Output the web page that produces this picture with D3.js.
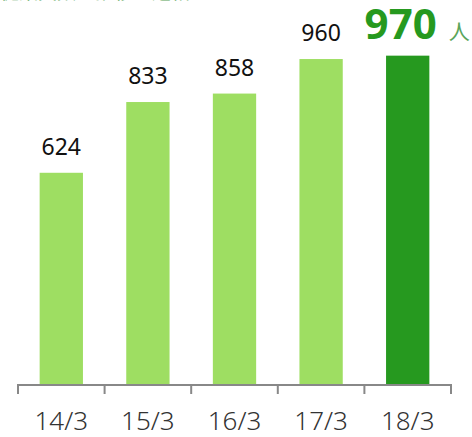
<!DOCTYPE html>
<html><head><meta charset="utf-8">
<script src="https://cdn.jsdelivr.net/npm/d3@7"></script>
<style>body{margin:0;background:#fff}svg{display:block}</style>
</head><body>
<script>
const categories = ["14/3","15/3","16/3","17/3","18/3"];
const values = [624, 833, 858, 960, 970];
const unit = "人";
const title = "従業員数の推移（連結）";

const W = 472, H = 437;
const svg = d3.select("body").append("svg").attr("width", W).attr("height", H);
const font = "'Noto Sans', 'Noto Sans CJK JP', sans-serif";

const x = d3.scaleBand().domain(categories).range([18, 451]).paddingInner(0.5).paddingOuter(0.25);
const y = d3.scaleLinear().domain([0, 1000]).range([384, 45.5]);

// cut-off title (only its bottom edge is visible in the reference)
svg.append("text").attr("x", 0).attr("y", -1.5).attr("font-family", font)
  .attr("font-size", 19).attr("fill", "#5aa55a").text(title);

const last = categories.length - 1;
svg.selectAll("rect.bar").data(values).join("rect")
  .attr("x", (d,i) => x(categories[i]))
  .attr("y", d => y(d))
  .attr("width", x.bandwidth())
  .attr("height", d => y(0) - y(d))
  .attr("fill", (d,i) => i === last ? "#26991f" : "#9ede62");

svg.selectAll("text.val").data(values.slice(0, last)).join("text")
  .attr("x", (d,i) => x(categories[i]) + x.bandwidth()/2)
  .attr("y", d => y(d) - 18)
  .attr("text-anchor", "middle").attr("font-family", font)
  .attr("font-size", 23).attr("fill", "#111").text(d => d);

const lx = x(categories[last]) + x.bandwidth()/2;
svg.append("text").attr("x", lx + 29).attr("y", y(values[last]) - 17)
  .attr("text-anchor", "end").attr("font-family", font).attr("font-weight", "bold")
  .attr("font-size", 42).attr("fill", "#26991f").text(values[last]);
svg.append("text").attr("x", lx + 41).attr("y", y(values[last]) - 17)
  .attr("font-family", font).attr("font-size", 21).attr("fill", "#5aa55a").text(unit);

// axis
const axis = d3.axisBottom(x).tickSize(0).tickPadding(0);
const g = svg.append("g").attr("transform", `translate(0,${y(0)})`).call(axis);
g.select(".domain").remove();
g.selectAll(".tick text").attr("y", 46).attr("dy", 0)
  .attr("font-family", font).attr("font-size", 26).attr("fill", "#333").attr("font-weight", 300);
g.append("line").attr("x1", 18).attr("x2", 451).attr("y1", 1).attr("y2", 1)
  .attr("stroke", "#888").attr("stroke-width", 2);
g.selectAll("line.tk").data(categories.map((c,i) => i === 0 ? 18 : x(c) - x.step()*x.paddingInner()/2).concat([451]))
  .join("line").attr("class","tk")
  .attr("x1", d => d).attr("x2", d => d).attr("y1", 0).attr("y2", 10)
  .attr("stroke", "#888").attr("stroke-width", 2);
</script>
</body></html>
